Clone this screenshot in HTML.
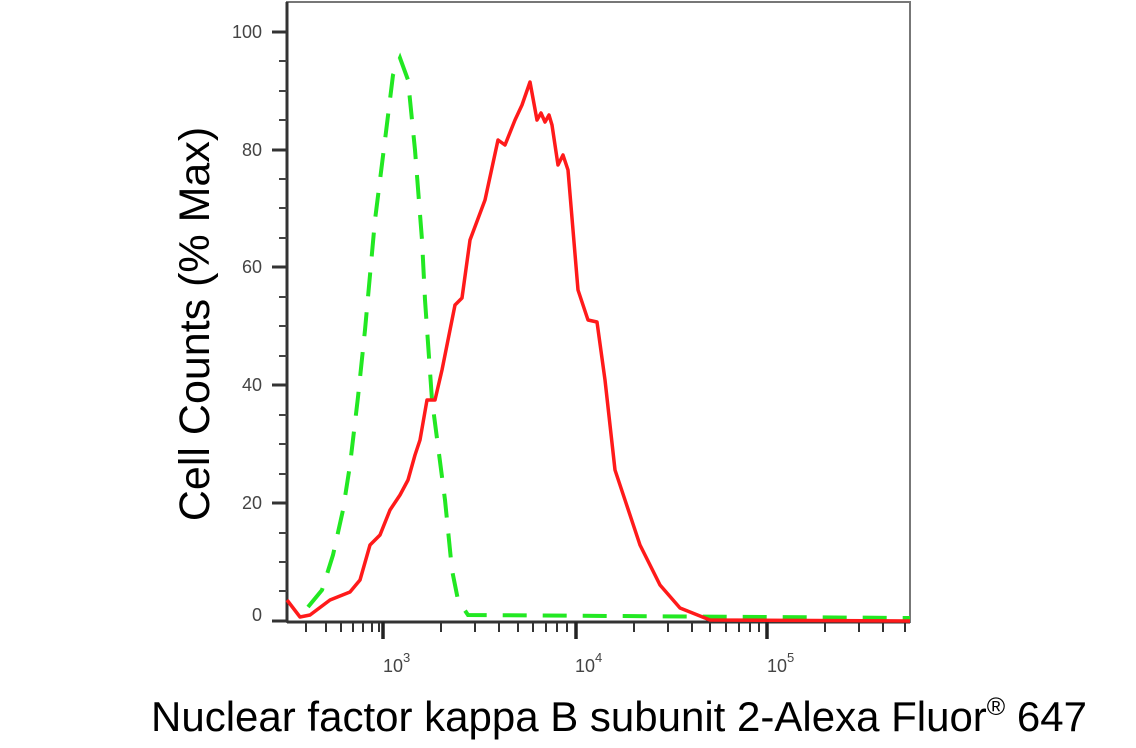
<!DOCTYPE html>
<html><head><style>
html,body{margin:0;padding:0;background:#fff;}
</style></head><body>
<svg width="1136" height="748" xmlns="http://www.w3.org/2000/svg" style="display:block">
<rect x="287" y="2" width="623" height="620" fill="none" stroke="#777" stroke-width="2"/>
<line x1="287" y1="2" x2="287" y2="622" stroke="#333" stroke-width="3"/>
<line x1="287" y1="622" x2="910" y2="622" stroke="#333" stroke-width="3"/>
<g stroke="#333" stroke-width="3">
<line x1="272" y1="32" x2="287" y2="32"/><line x1="272" y1="150" x2="287" y2="150"/>
<line x1="272" y1="267" x2="287" y2="267"/><line x1="272" y1="385" x2="287" y2="385"/>
<line x1="272" y1="503" x2="287" y2="503"/><line x1="272" y1="621" x2="287" y2="621"/>
</g>
<g stroke="#444" stroke-width="2">
<line x1="279" y1="91" x2="287" y2="91"/><line x1="279" y1="208" x2="287" y2="208"/>
<line x1="279" y1="326" x2="287" y2="326"/><line x1="279" y1="444" x2="287" y2="444"/>
<line x1="279" y1="562" x2="287" y2="562"/>
<line x1="279" y1="61" x2="287" y2="61"/><line x1="279" y1="120" x2="287" y2="120"/>
<line x1="279" y1="179" x2="287" y2="179"/><line x1="279" y1="238" x2="287" y2="238"/>
<line x1="279" y1="297" x2="287" y2="297"/><line x1="279" y1="356" x2="287" y2="356"/>
<line x1="279" y1="415" x2="287" y2="415"/><line x1="279" y1="474" x2="287" y2="474"/>
<line x1="279" y1="533" x2="287" y2="533"/><line x1="279" y1="591" x2="287" y2="591"/>
</g>
<g stroke="#333" stroke-width="2">
<line x1="306" y1="622" x2="306" y2="632"/><line x1="326" y1="622" x2="326" y2="632"/>
<line x1="341" y1="622" x2="341" y2="632"/><line x1="353" y1="622" x2="353" y2="632"/>
<line x1="363" y1="622" x2="363" y2="632"/><line x1="372" y1="622" x2="372" y2="632"/>
<line x1="379" y1="622" x2="379" y2="632"/>
<line x1="441" y1="622" x2="441" y2="632"/><line x1="475" y1="622" x2="475" y2="632"/>
<line x1="499" y1="622" x2="499" y2="632"/><line x1="518" y1="622" x2="518" y2="632"/>
<line x1="533" y1="622" x2="533" y2="632"/><line x1="546" y1="622" x2="546" y2="632"/>
<line x1="557" y1="622" x2="557" y2="632"/><line x1="567" y1="622" x2="567" y2="632"/>
<line x1="634" y1="622" x2="634" y2="632"/><line x1="668" y1="622" x2="668" y2="632"/>
<line x1="692" y1="622" x2="692" y2="632"/><line x1="710" y1="622" x2="710" y2="632"/>
<line x1="726" y1="622" x2="726" y2="632"/><line x1="739" y1="622" x2="739" y2="632"/>
<line x1="750" y1="622" x2="750" y2="632"/><line x1="759" y1="622" x2="759" y2="632"/>
<line x1="825" y1="622" x2="825" y2="632"/><line x1="859" y1="622" x2="859" y2="632"/>
<line x1="883" y1="622" x2="883" y2="632"/><line x1="905" y1="622" x2="905" y2="632"/>
</g>
<g stroke="#222" stroke-width="3.5">
<line x1="383" y1="622" x2="383" y2="639"/><line x1="576" y1="622" x2="576" y2="639"/><line x1="767" y1="622" x2="767" y2="639"/>
</g>
<g font-family="Liberation Sans, sans-serif" font-size="18" fill="#444" text-anchor="end">
<text x="262" y="38">100</text><text x="262" y="156">80</text><text x="262" y="273">60</text>
<text x="262" y="391">40</text><text x="262" y="509">20</text><text x="262" y="621">0</text>
</g>
<g font-family="Liberation Sans, sans-serif" font-size="18" fill="#444">
<text x="383" y="672">10<tspan font-size="13" dy="-10">3</tspan></text>
<text x="575" y="672">10<tspan font-size="13" dy="-10">4</tspan></text>
<text x="767" y="672">10<tspan font-size="13" dy="-10">5</tspan></text>
</g>
<polyline fill="none" stroke="#22e822" stroke-width="4" stroke-dasharray="24,16" points="308,607 322,590 333,555 343,510 350,465 358,397 365,330 375,220 385,140 393,75 400,58 408,80 415,150 422,240 425,300 432,400 445,500 452,570 458,600 468,615 910,618"/>
<polyline fill="none" stroke="#ff1a1a" stroke-width="3.5" stroke-linejoin="round" points="287,600 300,617 310,615 330,600 350,592 360,580 370,545 380,535 390,510 400,495 408,480 415,455 420,440 427,400 435,400 442,370 446,350 455,305 462,298 470,240 485,200 498,140 505,145 515,120 522,105 530,82 537,120 541,113 545,122 549,115 552,125 558,165 563,155 568,170 578,290 588,320 597,322 605,380 615,470 625,500 640,545 660,585 680,608 710,620 910,621"/>
<text transform="translate(209,324) rotate(-90)" font-family="Liberation Sans, sans-serif" font-size="43" text-anchor="middle" fill="#000">Cell Counts (% Max)</text>
<text x="619" y="731" font-family="Liberation Sans, sans-serif" font-size="42" text-anchor="middle" fill="#000">Nuclear factor kappa B subunit 2-Alexa Fluor<tspan font-size="25" dy="-16">®</tspan><tspan dy="16"> 647</tspan></text>
</svg>
</body></html>
